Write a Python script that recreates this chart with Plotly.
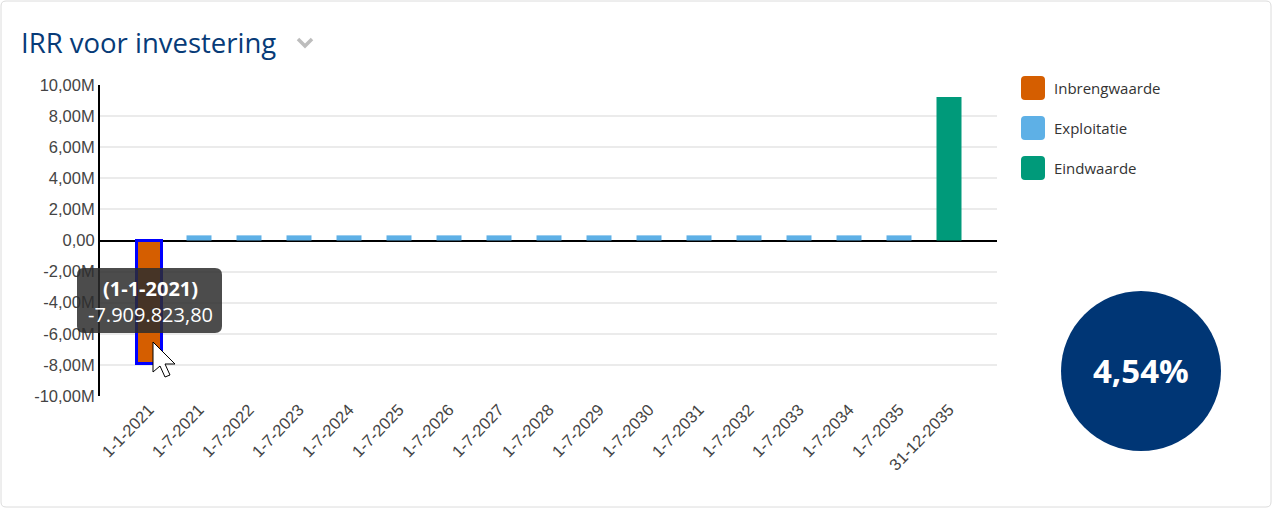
import plotly.graph_objects as go

# data
dates = ["1-1-2021"] + [f"1-7-{year}" for year in range(2021, 2036)] + ["31-12-2035"]
inbreng_dates = ["1-1-2021"]
inbreng_values = [-7909823.80]
exploitatie_dates = [f"1-7-{year}" for year in range(2021, 2036)]
exploitatie_values = [330000, 330000, 330000, 330000, 330000, 330000, 330000, 330000,
                      330000, 330000, 330000, 330000, 330000, 330000, 330000]
eind_dates = ["31-12-2035"]
eind_values = [9230000]
series_names = ["Inbrengwaarde", "Exploitatie", "Eindwaarde"]
series_colors = ["#d55e00", "#5eb0e6", "#009a7a"]
y_ticks = [-10e6, -8e6, -6e6, -4e6, -2e6, 0, 2e6, 4e6, 6e6, 8e6, 10e6]
y_labels = ["-10,00M", "-8,00M", "-6,00M", "-4,00M", "-2,00M", "0,00",
            "2,00M", "4,00M", "6,00M", "8,00M", "10,00M"]
irr_text = "4,54%"
title_text = "IRR voor investering"

W, H = 1273, 509
PL, PR, PT, PB = 100, 997, 85, 396  # plot area in pixels


def px(x):
    return (x - PL) / (PR - PL)


def py(y):
    return (PB - y) / (PB - PT)


def rounded_rect(x0, y0, x1, y1, r):
    return (
        f"M {px(x0 + r)} {py(y0)} L {px(x1 - r)} {py(y0)} "
        f"Q {px(x1)} {py(y0)} {px(x1)} {py(y0 + r)} L {px(x1)} {py(y1 - r)} "
        f"Q {px(x1)} {py(y1)} {px(x1 - r)} {py(y1)} L {px(x0 + r)} {py(y1)} "
        f"Q {px(x0)} {py(y1)} {px(x0)} {py(y1 - r)} L {px(x0)} {py(y0 + r)} "
        f"Q {px(x0)} {py(y0)} {px(x0 + r)} {py(y0)} Z"
    )


def dutch(value):
    text = f"{value:,.2f}"
    return text.replace(",", "_").replace(".", ",").replace("_", ".")


fig = go.Figure()
fig.add_trace(go.Bar(x=inbreng_dates, y=inbreng_values, name=series_names[0], width=0.5,
                     marker={"color": series_colors[0], "line": {"color": "#0000ff", "width": 3}}))
fig.add_trace(go.Bar(x=exploitatie_dates, y=exploitatie_values, name=series_names[1], width=0.5,
                     marker={"color": series_colors[1], "line": {"width": 0}}))
fig.add_trace(go.Bar(x=eind_dates, y=eind_values, name=series_names[2], width=0.5,
                     marker={"color": series_colors[2], "line": {"width": 0}}))

shapes = [
    # card border
    {"type": "path", "xref": "paper", "yref": "paper", "path": rounded_rect(1, 1, 1271, 507, 5),
     "line": {"color": "#dcdcdc", "width": 1}, "layer": "below"},
    # chevron next to the title
    {"type": "path", "xref": "paper", "yref": "paper",
     "path": f"M {px(298)} {py(39)} L {px(305)} {py(46)} L {px(312)} {py(39)}",
     "line": {"color": "#bdbdbd", "width": 3.5}},
    # IRR circle
    {"type": "circle", "xref": "paper", "yref": "paper",
     "x0": px(1061), "x1": px(1221), "y0": py(451), "y1": py(291),
     "fillcolor": "#003675", "line": {"width": 0}},
    # tooltip box
    {"type": "path", "xref": "paper", "yref": "paper", "path": rounded_rect(77, 268, 222, 333, 7),
     "fillcolor": "rgba(45,45,45,0.85)", "line": {"width": 0}, "layer": "above"},
    # mouse pointer
    {"type": "path", "xref": "paper", "yref": "paper",
     "path": (f"M {px(153)} {py(342)} L {px(153)} {py(372)} L {px(160)} {py(366)} "
              f"L {px(165)} {py(377)} L {px(170)} {py(375)} L {px(165)} {py(364)} "
              f"L {px(175)} {py(364)} Z"),
     "fillcolor": "white", "line": {"color": "black", "width": 1}, "layer": "above"},
]

annotations = [
    {"text": title_text, "xref": "paper", "yref": "paper", "x": px(19), "y": py(42),
     "xanchor": "left", "yanchor": "middle", "showarrow": False,
     "font": {"family": "Open Sans", "size": 27.5, "color": "#073b78"}},
    {"text": f"<b>{irr_text}</b>", "xref": "paper", "yref": "paper", "x": px(1141), "y": py(370),
     "xanchor": "center", "yanchor": "middle", "showarrow": False,
     "font": {"family": "Open Sans", "size": 33, "color": "white"}},
    {"text": f"<b>({inbreng_dates[0]})</b><br>{dutch(inbreng_values[0])}",
     "xref": "paper", "yref": "paper", "x": px(150), "y": py(301),
     "xanchor": "center", "yanchor": "middle", "showarrow": False, "align": "center",
     "font": {"family": "Open Sans", "size": 20, "color": "white"}},
]

# custom legend with large rounded swatches
for index, (name, color) in enumerate(zip(series_names, series_colors)):
    top = 76 + 40 * index
    shapes.append({"type": "path", "xref": "paper", "yref": "paper",
                   "path": rounded_rect(1021, top, 1045, top + 24, 4),
                   "fillcolor": color, "line": {"width": 0}})
    annotations.append({"text": name, "xref": "paper", "yref": "paper",
                        "x": px(1052), "y": py(top + 12), "xanchor": "left", "yanchor": "middle",
                        "showarrow": False,
                        "font": {"family": "Open Sans", "size": 15, "color": "#333333"}})

fig.update_layout(
    width=W,
    height=H,
    margin={"l": PL, "r": W - PR, "t": PT, "b": H - PB, "autoexpand": False},
    paper_bgcolor="white",
    plot_bgcolor="white",
    barmode="relative",
    showlegend=False,
    shapes=shapes,
    annotations=annotations,
)
fig.update_xaxes(
    type="category",
    categoryorder="array",
    categoryarray=dates,
    range=[-0.98, 16.96],
    tickangle=-46,
    tickfont={"family": "Liberation Sans", "size": 16.5, "color": "#444444"},
    showgrid=False,
    showline=False,
    ticks="",
)
fig.update_yaxes(
    range=[-10e6, 10e6],
    tickvals=y_ticks,
    ticktext=y_labels,
    tickfont={"family": "Liberation Sans", "size": 16.5, "color": "#444444"},
    gridcolor="#ebebeb",
    gridwidth=1.5,
    showline=True,
    linecolor="black",
    linewidth=2,
    zeroline=True,
    zerolinecolor="black",
    zerolinewidth=2,
    ticks="",
)

fig.write_html("out.html", config={"displayModeBar": False},
               post_script="document.body.style.margin = '0';")
